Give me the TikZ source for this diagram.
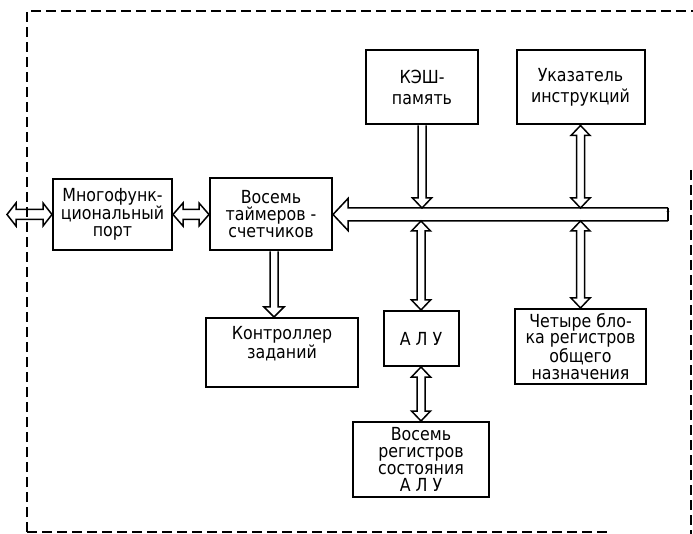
\documentclass[tikz,border=0pt]{standalone}
\usepackage{fontspec}
\setmainfont[FakeStretch=0.88]{DejaVu Sans}
\usetikzlibrary{calc}
\tikzset{
  box/.style={draw, line width=2pt, inner sep=0pt, align=center,
    font=\fontsize{18}{17}\selectfont},
  border/.style={line width=1.9pt, dash pattern=on 10pt off 5pt},
  % double-headed hollow arrow: #1 shaft half-width, #2 head half-width, #3 head length
  darr/.style n args={3}{line width=1.5pt, line join=miter, to path={
    -- ($(\tikztostart)!#3!(\tikztotarget)!#2!90:(\tikztotarget)$)
    -- ($(\tikztostart)!#3!(\tikztotarget)!#1!90:(\tikztotarget)$)
    -- ($(\tikztotarget)!#3!(\tikztostart)!#1!-90:(\tikztostart)$)
    -- ($(\tikztotarget)!#3!(\tikztostart)!#2!-90:(\tikztostart)$)
    -- (\tikztotarget)
    -- ($(\tikztotarget)!#3!(\tikztostart)!#2!90:(\tikztostart)$)
    -- ($(\tikztotarget)!#3!(\tikztostart)!#1!90:(\tikztostart)$)
    -- ($(\tikztostart)!#3!(\tikztotarget)!#1!-90:(\tikztotarget)$)
    -- ($(\tikztostart)!#3!(\tikztotarget)!#2!-90:(\tikztotarget)$)
    -- cycle}},
  % single hollow arrow, tip at target
  sarr/.style n args={3}{line width=1.5pt, line join=miter, to path={
    ($(\tikztostart)!#1!90:(\tikztotarget)$)
    -- ($(\tikztotarget)!#3!(\tikztostart)!#1!-90:(\tikztostart)$)
    -- ($(\tikztotarget)!#3!(\tikztostart)!#2!-90:(\tikztostart)$)
    -- (\tikztotarget)
    -- ($(\tikztotarget)!#3!(\tikztostart)!#2!90:(\tikztostart)$)
    -- ($(\tikztotarget)!#3!(\tikztostart)!#1!90:(\tikztostart)$)
    -- ($(\tikztostart)!#1!-90:(\tikztotarget)$)}},
}
\begin{document}
\begin{tikzpicture}[x=1pt,y=-1pt]
\useasboundingbox (0,0) rectangle (693,534);
% dashed frame
\draw[border] (27,532) -- (27,11) -- (693,11);
\draw[border] (27,532) -- (607,532);
\draw[border] (691,170) -- (691,534);

% boxes
\node[box, minimum width=119pt, minimum height=71pt] (port) at (112.5,214.5) {Многофунк-\\циональный\\порт};
\node[box, minimum width=122pt, minimum height=72pt] (timer) at (271,214.5) {Восемь\\таймеров -\\счетчиков};
\node[box, minimum width=112pt, minimum height=74pt] (cache) at (422,87.5) {КЭШ-\\[4pt]память};
\node[box, minimum width=128pt, minimum height=74pt] (ip) at (580.5,87.5) {Указатель\\[4pt]инструкций};
\node[box, minimum width=152pt, minimum height=69pt] (ctrl) at (282,352.5) {Контроллер\\заданий\\[3pt]};
\node[box, minimum width=75pt, minimum height=55pt] (alu) at (421,338.5) {А Л У};
\node[box, minimum width=131pt, minimum height=75pt] (gpr) at (580.5,346.5) {Четыре бло-\\ка регистров\\общего\\назначения};
\node[box, minimum width=136pt, minimum height=75pt] (flags) at (421,459.5) {Восемь\\регистров\\состояния\\А Л У};

% bus
\coordinate (busend) at (668,214.5);
\coordinate (bustop) at (500,208);
\coordinate (busbot) at (500,221);
\draw[sarr={6.5pt}{16pt}{15pt}] (busend) to (timer.east);
\draw[line width=1.5pt] (busend) ++(0,-6.5) -- ++(0,13);
\fill (busend) ++(0,-3) circle[radius=1.3];

% connectors
\coordinate (ext) at (7,214.5);
\draw[darr={5pt}{11.5pt}{9pt}] (ext) to (port.west);
\draw[darr={5pt}{11.5pt}{10pt}] (port.east) to (timer.west);
\draw[sarr={4pt}{10pt}{10pt}] ([xshift=3pt]timer.south) to ([xshift=3pt]timer.south |- ctrl.north);
\draw[sarr={4pt}{9.5pt}{10pt}] (cache.south) to (cache.south |- bustop);
\draw[darr={4pt}{9.5pt}{10pt}] (ip.south) to (ip.south |- bustop);
\draw[darr={4pt}{9.5pt}{10pt}] (alu.north |- busbot) to (alu.north);
\draw[darr={4pt}{9.5pt}{10pt}] (gpr.north |- busbot) to (gpr.north);
\draw[darr={4pt}{9.5pt}{10pt}] (alu.south) to (flags.north);
\end{tikzpicture}
\end{document}
